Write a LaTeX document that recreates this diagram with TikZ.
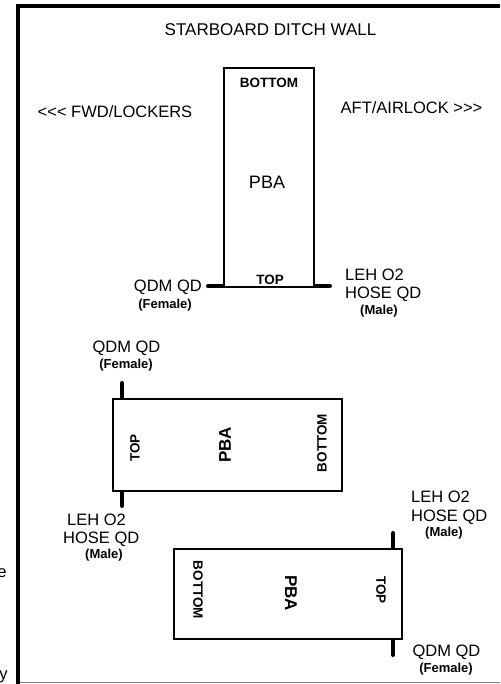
\documentclass[tikz,border=0pt]{standalone}
\usepackage{fontspec}
\setmainfont{Liberation Sans}[Ligatures=TeXOff]
\usetikzlibrary{positioning}

\newcommand{\fsz}[1]{\fontsize{#1}{#1}\selectfont}

\begin{document}
\begin{tikzpicture}[
        x=1pt, y=-1pt,
        pba/.style={draw, line width=2pt, inner sep=0pt},
        lbl/.style={inner sep=0pt, font=\fsz{16.5}},
        sexlbl/.style={inner sep=0pt, font=\bfseries\fsz{13}},
        endlbl/.style={inner sep=0pt, font=\bfseries\fsz{13.5}},
        pbalbl/.style={inner sep=0pt, font=\bfseries\fsz{17}},
        stub/.style={line width=4pt, line cap=round},
        frame/.style={line width=4pt, line join=miter}
    ]
        \useasboundingbox (0,0) rectangle (500,684);
        \draw[frame] (18,684) -- (18,6) -- (500,6);
        \draw[gray, line width=1pt] (20,682) -- (500,682);
        % header
        \node[lbl, font=\fsz{17}] (wall) at (270.5,30) {STARBOARD DITCH WALL};
        \node[lbl] (fwd) at (115,112) {<<< FWD/LOCKERS};
        \node[lbl] (aft) at (411.5,108) {AFT/AIRLOCK >>>};
        % upright PBA
        \node[pba, minimum width=90pt, minimum height=219pt] (pbaA) at (269,177.5) {};
        \node[endlbl] (botA) at (269,83) {BOTTOM};
        \node[pbalbl, font=\fsz{18}] (nameA) at (267,182) {PBA};
        \node[endlbl] (topA) at (270,280) {TOP};
        \coordinate (qdmA) at (208,286);
        \coordinate (lehA) at (330,286);
        \draw[stub] (qdmA) -- (qdmA -| pbaA.west);
        \draw[stub] (pbaA.east |- lehA) -- (lehA);
        \node[lbl, anchor=east] (qdmtxtA) at (202,287) {QDM QD};
        \node[sexlbl] (femA) at (165,305) {(Female)};
        \node[lbl, anchor=west] (lehtxtA) at (345,275) {LEH O2};
        \node[lbl, anchor=west] (hoseA) at (345,294) {HOSE QD};
        \node[sexlbl] (maleA) at (379,311) {(Male)};
        % middle PBA
        \node[pba, minimum width=229pt, minimum height=92pt] (pbaB) at (227.5,445) {};
        \node[endlbl, rotate=90] (topB) at (135,448) {TOP};
        \node[pbalbl, rotate=90] (nameB) at (225,445) {PBA};
        \node[endlbl, rotate=90] (botB) at (322,443) {BOTTOM};
        \coordinate (qdmB) at (122,383);
        \coordinate (lehB) at (122,506);
        \draw[stub] (qdmB) -- (qdmB |- pbaB.north);
        \draw[stub] (pbaB.south -| lehB) -- (lehB);
        \node[lbl] (qdmtxtB) at (126.5,348) {QDM QD};
        \node[sexlbl] (femB) at (126,365) {(Female)};
        \node[lbl, anchor=west] (lehtxtB) at (67,520) {LEH O2};
        \node[lbl, anchor=west] (hoseB) at (63,539) {HOSE QD};
        \node[sexlbl] (maleB) at (104,555) {(Male)};
        % lower PBA
        \node[pba, minimum width=228pt, minimum height=90pt] (pbaC) at (288,594) {};
        \node[endlbl, rotate=-90] (botC) at (198,590) {BOTTOM};
        \node[pbalbl, rotate=-90] (nameC) at (291,593) {PBA};
        \node[endlbl, rotate=-90] (topC) at (381,590) {TOP};
        \coordinate (lehC) at (393,533);
        \coordinate (qdmC) at (393,655);
        \draw[stub] (lehC) -- (lehC |- pbaC.north);
        \draw[stub] (pbaC.south -| qdmC) -- (qdmC);
        \node[lbl, anchor=west] (lehtxtC) at (411,497) {LEH O2};
        \node[lbl, anchor=west] (hoseC) at (411,517) {HOSE QD};
        \node[sexlbl] (maleC) at (444,533) {(Male)};
        \node[lbl] (qdmtxtC) at (446.5,652) {QDM QD};
        \node[sexlbl] (femC) at (446,669.5) {(Female)};
        % cut-off letters at the left edge
        \node[lbl] (cutE) at (2,573) {e};
        \node[lbl] (cutY) at (3.5,677) {y};
    \end{tikzpicture}
\end{document}
